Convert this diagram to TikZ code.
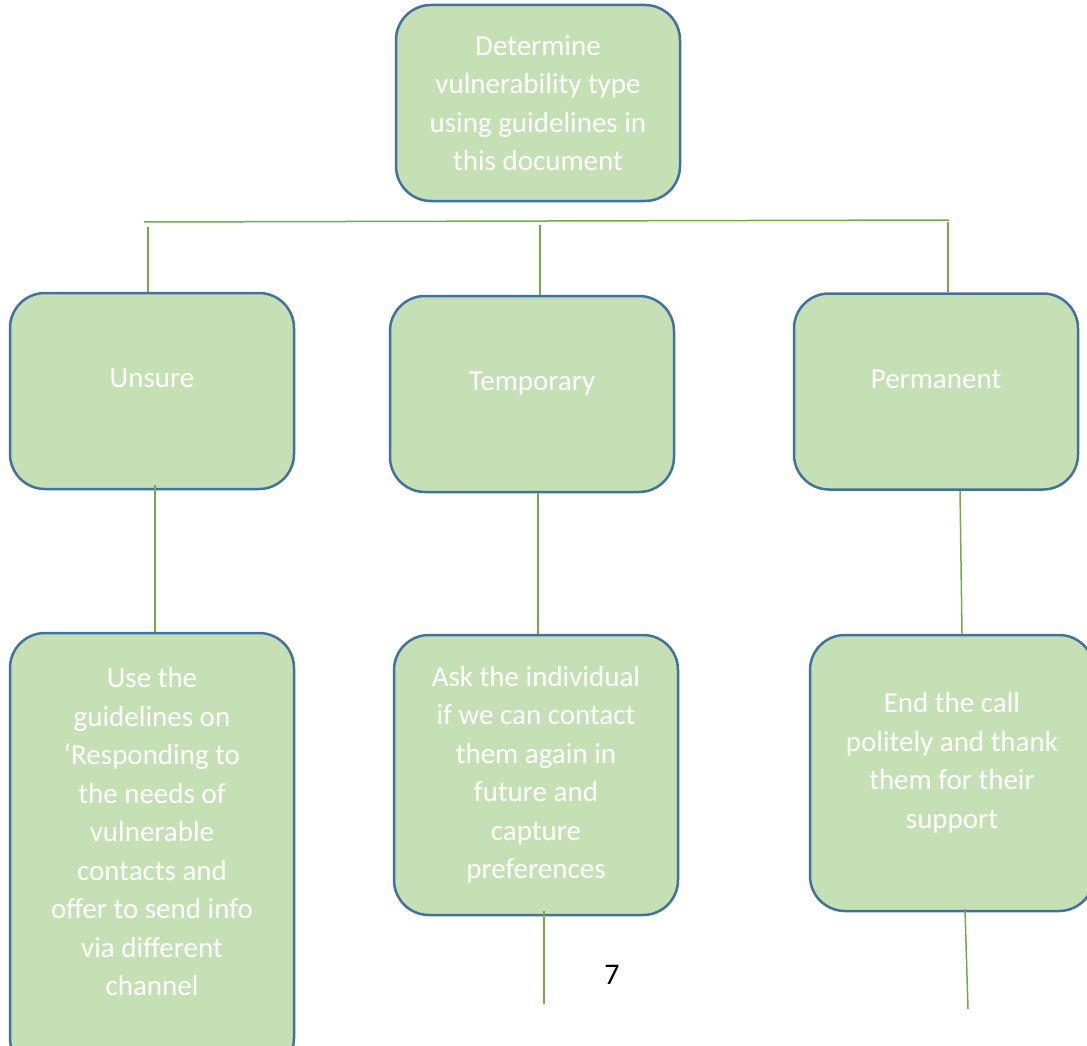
\documentclass[tikz,border=0pt]{standalone}
\usepackage{fontspec}
\setmainfont{Carlito}
\usepackage{xcolor}
\usetikzlibrary{arrows.meta, positioning, calc}

\definecolor{boxfill}{HTML}{C5E0B4}
\definecolor{boxline}{HTML}{41719C}
\definecolor{linkgreen}{HTML}{70AD47}

\begin{document}
\begin{tikzpicture}[x=1pt, y=-1pt,
  box/.style={draw=boxline, line width=2.5pt, fill=boxfill, rounded corners=35pt,
    minimum width=284pt, minimum height=196pt, align=center, text=white,
    font=\fontsize{29}{38.5}\selectfont},
  typebox/.style={box, text depth=25pt},
  boxtext/.style={align=center, text=white, font=\fontsize{29}{38.5}\selectfont},
  link/.style={draw=linkgreen, line width=1.5pt}]
  \useasboundingbox (0,0) rectangle (1087,1046);

  % Top box
  \node[box] (determine) at (538,103)
    {Determine\\vulnerability type\\using guidelines in\\this document};

  % Vulnerability types
  \node[typebox] (unsure) at (152,391) {Unsure};
  \node[typebox] (temporary) at (532,394) {Temporary};
  \node[typebox] (permanent) at (936,391.5) {Permanent};

  % Actions
  \node[box, minimum height=440pt] (use) at (152,853) {};
  \node[boxtext] (usetext) at (152,832)
    {Use the\\guidelines on\\`Responding to\\the needs of\\vulnerable\\contacts and\\offer to send info\\via different\\channel};
  \node[box, minimum height=280pt] (ask) at (536,775)
    {Ask the individual\\if we can contact\\them again in\\future and\\capture\\preferences};
  \node[box, minimum height=276pt] (endcall) at (952,773) {};
  \node[boxtext] (endcalltext) at (952,763)
    {End the call\\politely and thank\\them for their\\support};

  % Branch bar
  \coordinate (barL) at (144,222);
  \coordinate (barR) at (949,220);
  \draw[link] (barL) -- (barR);
  \coordinate (barU) at (148,227);
  \coordinate (barT) at (540,225);
  \coordinate (barP) at (948,222);
  \draw[link] (barU) -- (barU |- unsure.north);
  \draw[link] (barT) -- (barT |- temporary.north);
  \draw[link] (barP) -- (barP |- permanent.north);

  % Type to action
  \draw[link] ([xshift=3pt, yshift=5pt]unsure.south) -- ([xshift=3pt]use.north);
  \draw[link] ([xshift=6pt]temporary.south) -- ([xshift=2pt]ask.north);
  \draw[link] ([xshift=24pt]permanent.south) -- ([xshift=10pt]endcall.north);

  % Loose ends
  \coordinate (askend) at (544,1004);
  \coordinate (endcallend) at (968,1009);
  \draw[link] ([xshift=8pt, yshift=5pt]ask.south) -- (askend);
  \draw[link] ([xshift=13pt, yshift=3pt]endcall.south) -- (endcallend);

  % Page number
  \node[font=\fontsize{30}{36}\selectfont] (pagenum) at (612,975) {7};
\end{tikzpicture}
\end{document}
